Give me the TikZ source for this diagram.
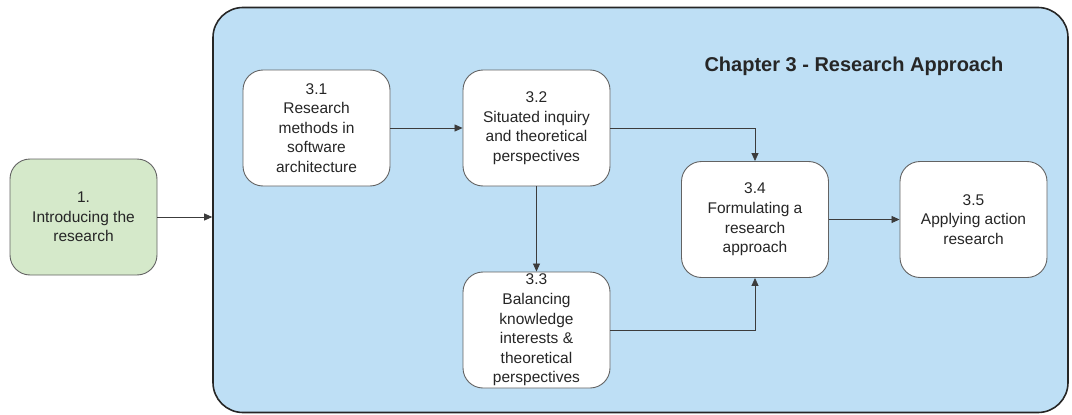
\documentclass[tikz,border=0pt]{standalone}
\usepackage{fontspec}
\setmainfont{Liberation Sans}
\usetikzlibrary{arrows.meta}
\definecolor{chapblue}{RGB}{190,223,245}
\definecolor{introgreen}{RGB}{213,233,202}
\definecolor{edgegray}{RGB}{60,60,60}
\tikzset{
  secbox/.style={draw=edgegray!80, line width=0.9pt, fill=white, rectangle,
    rounded corners=20pt, minimum width=147pt, minimum height=116pt,
    inner sep=0pt, align=center,
    font=\fontsize{15.5}{19.6}\selectfont, text=black!85},
  flow/.style={draw=edgegray, line width=0.8pt,
    -{Triangle[length=8pt,width=7pt]}},
}
\begin{document}
\begin{tikzpicture}[x=1pt,y=-1pt]
  \useasboundingbox (0,0) rectangle (1072,415);
  % chapter container
  \node[draw=black!85, line width=1.6pt, fill=chapblue, rectangle,
        rounded corners=30pt, minimum width=855pt, minimum height=405pt,
        inner sep=0pt] (ch3) at (640.5,210) {};
  \node[font=\fontsize{20}{24}\bfseries\selectfont, text=black!85] (title)
        at (854,66) {Chapter 3 - Research Approach};
  % sections
  \node[secbox, fill=introgreen] (intro) at (83.5,217) {1.\\Introducing the\\research};
  \node[secbox] (s31) at (316.5,128) {3.1\\Research\\methods in\\software\\architecture};
  \node[secbox] (s32) at (536.5,128) {3.2\\Situated inquiry\\and theoretical\\perspectives};
  \node[secbox] (s33) at (536.5,330) {3.3\\Balancing\\knowledge\\interests \&\\theoretical\\perspectives};
  \node[secbox] (s34) at (755,219.5) {3.4\\Formulating a\\research\\approach};
  \node[secbox] (s35) at (973.5,219.5) {3.5\\Applying action\\research};
  % connectors
  \draw[flow] (intro.east) -- (intro.east -| ch3.west);
  \draw[flow] (s31.east) -- (s32.west);
  \draw[flow] (s32.south) -- (s33.north);
  \draw[flow] (s32.east) -| (s34.north);
  \draw[flow] (s33.east) -| (s34.south);
  \draw[flow] (s34.east) -- (s35.west);
\end{tikzpicture}
\end{document}
